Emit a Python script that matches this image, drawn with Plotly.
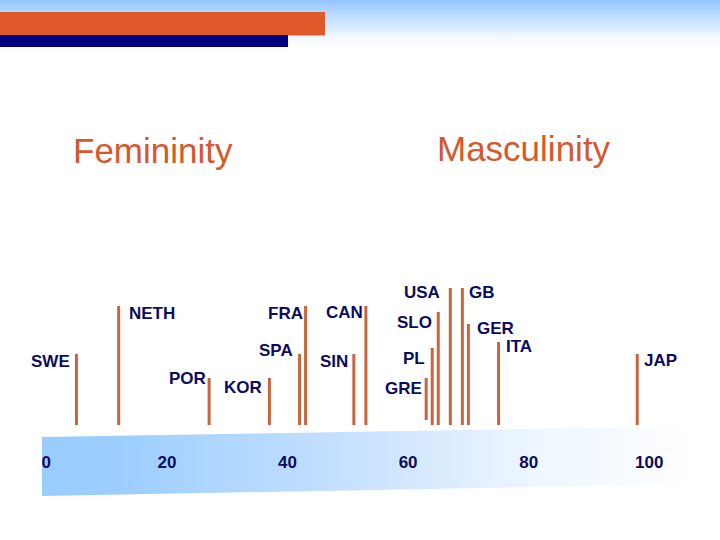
import plotly.graph_objects as go

# ---- data ----
countries = ["SWE", "NETH", "POR", "KOR", "SPA", "FRA", "SIN", "CAN",
             "GRE", "PL", "SLO", "USA", "GB", "GER", "ITA", "JAP"]
masculinity = [5, 12, 27, 37, 42, 43, 51, 53, 63, 64, 65, 67, 69, 70, 75, 98]
stem_top = [71, 119, 47, 47, 71, 119, 71, 119, 47, 77, 113, 137, 137, 101, 83, 71]
stem_base = [0, 0, 0, 0, 0, 0, 0, 0, 5, 0, 0, 0, 0, 0, 0, 0]
tick_values = [0, 20, 40, 60, 80, 100]
tick_labels = ["0", "20", "40", "60", "80", "100"]
pole_left = "Femininity"
pole_right = "Masculinity"

# ---- style ----
W, H = 720, 540
NAVY_TXT = "#0c0c5e"
ORANGE = "#d5582e"
STEM = "#c8653e"
FONT = "Liberation Sans, Arial, sans-serif"

# label placement: side, gap (px from stem), vertical offset (px below stem top)
label_style = {
    "SWE": ("L", 6, 7), "NETH": ("R", 10, 7), "POR": ("L", 3, 0),
    "KOR": ("L", 7, 9), "SPA": ("L", 7, -4), "FRA": ("L", 3, 7),
    "SIN": ("L", 6, 7), "CAN": ("L", 3, 6), "GRE": ("L", 4, 10),
    "PL": ("L", 7, 10), "SLO": ("L", 6, 10), "USA": ("L", 10, 4),
    "GB": ("R", 7, 4), "GER": ("R", 9, 4), "ITA": ("R", 7, 4),
    "JAP": ("R", 7, 6),
}

# data axis scale: px = 46.3 + 6.03 * value ; baseline at px 425
X0, XS = 46.3, 6.03
BASE_PX = 425
x_range = [(0 - X0) / XS, (W - X0) / XS]
y_range = [-(H - BASE_PX), BASE_PX]

fig = go.Figure()

# ---- decorations on pixel axes (x/y) ----
fig.add_trace(go.Scatter(
    x=[0, W, W, 0, 0], y=[0, 0, 50, 50, 0], mode="lines", fill="toself",
    line=dict(width=0), hoverinfo="skip", showlegend=False,
    fillgradient=dict(type="vertical",
                      colorscale=[[0, "#ffffff"], [0.25, "#f4f9ff"], [1, "#93c6ff"]]),
))
fig.add_trace(go.Scatter(
    x=[42, 700, 700, 42, 42], y=[437, 426, 484, 496, 437], mode="lines", fill="toself",
    line=dict(width=0), hoverinfo="skip", showlegend=False,
    fillgradient=dict(type="horizontal",
                      colorscale=[[0, "#99ccff"], [0.12, "#9dceff"], [0.45, "#c4e0ff"],
                                  [0.75, "#eef6ff"], [1, "#ffffff"]]),
))

shapes = [
    dict(type="rect", xref="x", yref="y", x0=0, x1=325, y0=12, y1=35.5,
         fillcolor="#e0592b", line=dict(width=0), layer="above"),
    dict(type="rect", xref="x", yref="y", x0=0, x1=288, y0=35, y1=47,
         fillcolor="#000080", line=dict(width=0), layer="above"),
]

# ---- stems on data axes (x2/y2) ----
xs, ys = [], []
for v, b, t in zip(masculinity, stem_base, stem_top):
    xs += [v, v, None]
    ys += [b, t, None]
fig.add_trace(go.Scatter(
    x=xs, y=ys, mode="lines", xaxis="x2", yaxis="y2",
    line=dict(color=STEM, width=3), hoverinfo="skip", showlegend=False,
))

annotations = []
for c, v, t in zip(countries, masculinity, stem_top):
    side, gap, dy = label_style[c]
    annotations.append(dict(
        x=v, y=t - dy, xref="x2", yref="y2", text=c, showarrow=False,
        xanchor="right" if side == "L" else "left", yanchor="middle",
        xshift=-(gap - 2) if side == "L" else (gap - 2),
        font=dict(family=FONT, size=17, color=NAVY_TXT, weight="bold"),
    ))

annotations += [
    dict(x=153, y=150, xref="x", yref="y", text=pole_left, showarrow=False,
         xanchor="center", yanchor="middle",
         font=dict(family=FONT, size=35, color=ORANGE)),
    dict(x=524, y=148, xref="x", yref="y", text=pole_right, showarrow=False,
         xanchor="center", yanchor="middle",
         font=dict(family=FONT, size=35, color=ORANGE)),
]

fig.update_layout(
    width=W, height=H, margin=dict(l=0, r=0, t=0, b=0),
    paper_bgcolor="white", plot_bgcolor="white",
    showlegend=False, shapes=shapes, annotations=annotations,
    xaxis=dict(range=[0, W], visible=False, domain=[0, 1], fixedrange=True),
    yaxis=dict(range=[H, 0], visible=False, domain=[0, 1], fixedrange=True),
    xaxis2=dict(range=x_range, overlaying="x", anchor="free",
                position=(H - 450) / H, side="bottom",
                tickvals=tick_values, ticktext=tick_labels, ticks="",
                showline=False, showgrid=False, zeroline=False, fixedrange=True,
                tickfont=dict(family=FONT, size=17, color=NAVY_TXT, weight="bold")),
    yaxis2=dict(range=y_range, overlaying="y", visible=False, showgrid=False,
                zeroline=False, fixedrange=True),
)

fig.write_html("out.html", config={"displayModeBar": False},
               post_script="document.body.style.margin='0';")
